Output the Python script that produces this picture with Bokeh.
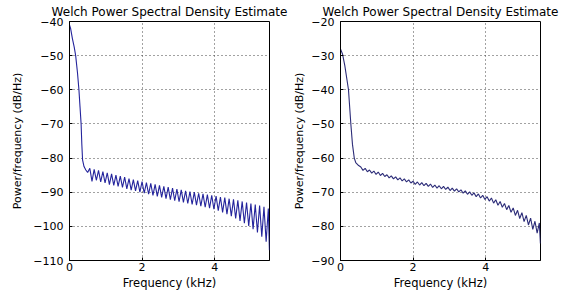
from bokeh.plotting import figure
from bokeh.layouts import row
from bokeh.models import Range1d, FixedTicker
from bokeh.embed import file_html
from bokeh.resources import INLINE

# ---------------- data ----------------
title_text = "Welch Power Spectral Density Estimate"
x_label = "Frequency (kHz)"
y_label = "Power/frequency (dB/Hz)"
x_ticks = [0, 2, 4]
left_y_ticks = [-110, -100, -90, -80, -70, -60, -50, -40]
right_y_ticks = [-90, -80, -70, -60, -50, -40, -30, -20]

# steep low-frequency part of each curve
left_head_freq = [0.0, 0.03, 0.08, 0.13, 0.17, 0.22, 0.26, 0.29, 0.32, 0.34, 0.36, 0.40, 0.45, 0.50]
left_head_psd = [-41.0, -42.0, -45.0, -47.5, -50.0, -55.0, -60.0, -65.0, -70.0, -76.0, -80.5, -82.5, -83.5, -84.2]
right_head_freq = [0.0, 0.01, 0.055, 0.12, 0.22, 0.285, 0.33, 0.38, 0.42, 0.50]
right_head_psd = [-28.0, -28.3, -29.5, -33.0, -40.0, -50.0, -56.0, -60.0, -61.3, -62.2]

# rippled part: alternating peaks and troughs
ripple_freq = [0.56, 0.62, 0.68, 0.74, 0.80, 0.86, 0.92, 0.98, 1.04, 1.10, 1.16, 1.22,
               1.28, 1.34, 1.40, 1.46, 1.52, 1.58, 1.64, 1.70, 1.76, 1.82, 1.88, 1.94,
               2.00, 2.06, 2.12, 2.18, 2.24, 2.30, 2.36, 2.42, 2.48, 2.54, 2.60, 2.66,
               2.72, 2.78, 2.84, 2.90, 2.96, 3.02, 3.08, 3.14, 3.20, 3.26, 3.32, 3.38,
               3.44, 3.50, 3.56, 3.62, 3.68, 3.74, 3.80, 3.86, 3.92, 3.98, 4.04, 4.10,
               4.16, 4.22, 4.28, 4.34, 4.40, 4.46, 4.52, 4.58, 4.64, 4.70, 4.76, 4.82,
               4.88, 4.94, 5.00, 5.06, 5.12, 5.18, 5.24, 5.30, 5.36, 5.42, 5.48, 5.51]
left_ripple_psd = [-83.0, -86.8, -83.3, -86.5, -83.6, -87.0, -84.0, -87.3, -84.3, -87.8, -84.6, -88.0,
                   -85.0, -88.3, -85.3, -88.6, -85.6, -89.0, -86.0, -89.4, -86.3, -89.6, -86.6, -90.0,
                   -86.9, -90.3, -87.2, -90.6, -87.4, -90.9, -87.7, -91.2, -88.0, -91.5, -88.3, -91.9,
                   -88.5, -92.2, -88.8, -92.5, -89.1, -92.8, -89.3, -93.0, -89.6, -93.3, -89.8, -93.6,
                   -90.0, -93.8, -90.3, -94.1, -90.5, -94.4, -90.7, -94.7, -90.9, -95.0, -91.1, -95.4,
                   -91.4, -95.9, -91.6, -96.4, -91.9, -97.0, -92.1, -97.7, -92.4, -98.4, -92.7, -99.1,
                   -93.0, -99.9, -93.3, -100.8, -93.6, -101.8, -93.9, -103.0, -94.3, -104.5, -94.8, -107.0]
right_ripple_psd = [-62.6, -63.6, -63.0, -64.0, -63.5, -64.4, -63.8, -64.8, -64.1, -65.1, -64.5, -65.4,
                    -64.9, -65.8, -65.2, -66.1, -65.5, -66.4, -65.8, -66.7, -66.1, -67.0, -66.4, -67.3,
                    -66.8, -67.7, -67.0, -67.9, -67.2, -68.1, -67.4, -68.3, -67.6, -68.6, -67.9, -68.8,
                    -68.1, -69.0, -68.3, -69.2, -68.5, -69.5, -68.8, -69.7, -69.0, -69.9, -69.3, -70.3,
                    -69.6, -70.6, -69.9, -70.9, -70.2, -71.3, -70.5, -71.7, -70.9, -72.1, -71.3, -72.6,
                    -71.7, -73.2, -72.2, -73.8, -72.7, -74.4, -73.3, -75.1, -73.9, -75.9, -74.6, -76.8,
                    -75.3, -77.7, -76.0, -78.6, -76.8, -79.6, -77.6, -80.9, -78.5, -82.0, -79.0, -85.0]

nyquist_khz = 5.5125

FONT = "DejaVu Sans"


def make_panel(freq, psd, y_lo, y_hi, y_ticks, color, border_left, border_right, label_standoff):
    p = figure(frame_width=200, frame_height=239,
               min_border_left=border_left, min_border_right=border_right,
               min_border_top=21, min_border_bottom=0,
               x_range=Range1d(0, nyquist_khz), y_range=Range1d(y_lo, y_hi),
               output_backend="svg", toolbar_location=None,
               title=title_text)
    p.title.text_font = FONT
    p.title.text_font_size = "12px"
    p.title.text_font_style = "normal"
    p.title.align = "center"
    p.title.standoff = 5
    p.title.text_color = "black"

    p.line(freq, psd, line_color=color, line_width=1.1)

    p.xaxis.ticker = FixedTicker(ticks=x_ticks)
    p.yaxis.ticker = FixedTicker(ticks=y_ticks)
    p.xaxis.axis_label = x_label
    p.yaxis.axis_label = y_label
    for ax in (p.xaxis[0], p.yaxis[0]):
        ax.axis_label_text_font = FONT
        ax.axis_label_text_font_style = "normal"
        ax.axis_label_text_color = "black"
        ax.major_label_text_font = FONT
        ax.major_label_text_font_size = "11px"
        ax.major_label_text_color = "black"
        ax.axis_line_color = "black"
        ax.major_tick_line_color = "black"
        ax.major_tick_in = 3
        ax.major_tick_out = 0
        ax.minor_tick_line_color = None
    p.xaxis.axis_label_text_font_size = "11.5px"
    p.yaxis.axis_label_text_font_size = "11px"
    p.yaxis.major_label_standoff = 6
    p.yaxis.axis_label_standoff = label_standoff
    p.xaxis.major_label_standoff = 2
    p.xaxis.axis_label_standoff = 2

    p.xgrid.grid_line_color = "#444444"
    p.ygrid.grid_line_color = "#444444"
    p.xgrid.grid_line_dash = "1 3"
    p.ygrid.grid_line_dash = "1 3"
    p.xgrid.grid_line_width = 1
    p.ygrid.grid_line_width = 1

    p.outline_line_color = "black"
    p.outline_line_width = 1
    p.outline_line_alpha = 1
    p.background_fill_color = "white"
    p.border_fill_color = "white"
    return p


p1 = make_panel(left_head_freq + ripple_freq, left_head_psd + left_ripple_psd,
                -110, -40, left_y_ticks, "#24249c", 69, 20, 6)
p2 = make_panel(right_head_freq + ripple_freq, right_head_psd + right_ripple_psd,
                -90, -20, right_y_ticks, "#2c2c78", 51, 22, 2)

layout = row(p1, p2)
open("out.html", "w").write(file_html(layout, INLINE))
